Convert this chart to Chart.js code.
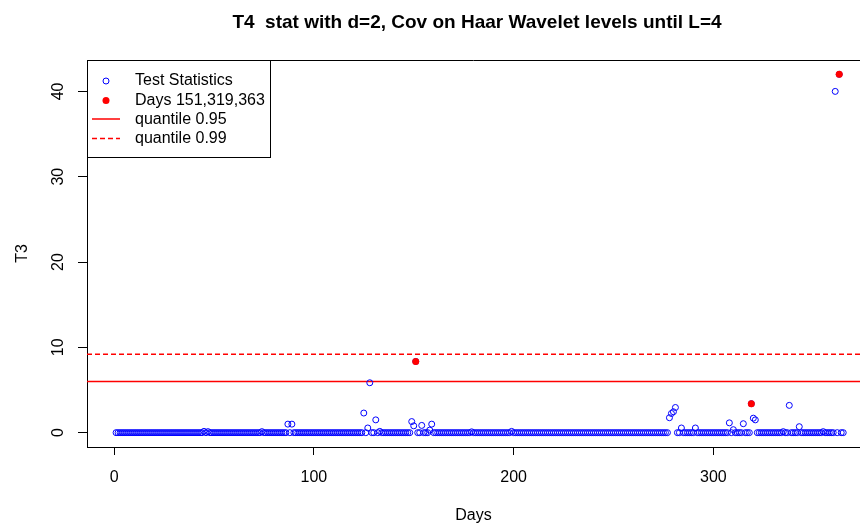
<!DOCTYPE html>
<html>
<head>
<meta charset="utf-8">
<script src="https://cdn.jsdelivr.net/npm/chart.js@4.4.0/dist/chart.umd.min.js"></script>
<style>
  html, body { margin: 0; padding: 0; background: #fff; overflow: hidden; }
</style>
</head>
<body>
<canvas id="myChart" width="860" height="525"></canvas>
<script>
// T statistic per day (day 1 .. 365)
const testStats = [
  0, 0, 0, 0, 0, 0, 0, 0, 0, 0, 0, 0, 0, 0, 0, 0, 0, 0, 0, 0,          // 1-20
  0, 0, 0, 0, 0, 0, 0, 0, 0, 0, 0, 0, 0, 0, 0, 0, 0, 0, 0, 0,          // 21-40
  0, 0, 0, 0, 0.15, 0, 0.12, 0, 0, 0, 0, 0, 0, 0, 0, 0, 0, 0, 0, 0,    // 41-60
  0, 0, 0, 0, 0, 0, 0, 0, 0, 0, 0, 0, 0, 0.12, 0, 0, 0, 0, 0, 0,       // 61-80
  0, 0, 0, 0, 0, 0, 1.0, 0, 1.0, 0, 0, 0, 0, 0, 0, 0, 0, 0, 0, 0,      // 81-100
  0, 0, 0, 0, 0, 0, 0, 0, 0, 0, 0, 0, 0, 0, 0, 0, 0, 0, 0, 0,          // 101-120
  0, 0, 0, 0, 2.3, 0, 0.55, 5.85, 0, 0, 1.5, 0, 0.15, 0, 0, 0, 0, 0, 0, 0,   // 121-140
  0, 0, 0, 0, 0, 0, 0, 0, 1.3, 0.8, 8.35, 0, 0, 0.85, 0, 0, 0, 0.3, 1.0, 0,  // 141-160
  0, 0, 0, 0, 0, 0, 0, 0, 0, 0, 0, 0, 0, 0, 0, 0, 0, 0, 0.1, 0,        // 161-180
  0, 0, 0, 0, 0, 0, 0, 0, 0, 0, 0, 0, 0, 0, 0, 0, 0, 0, 0.15, 0,       // 181-200
  0, 0, 0, 0, 0, 0, 0, 0, 0, 0, 0, 0, 0, 0, 0, 0, 0, 0, 0, 0,          // 201-220
  0, 0, 0, 0, 0, 0, 0, 0, 0, 0, 0, 0, 0, 0, 0, 0, 0, 0, 0, 0,          // 221-240
  0, 0, 0, 0, 0, 0, 0, 0, 0, 0, 0, 0, 0, 0, 0, 0, 0, 0, 0, 0,          // 241-260
  0, 0, 0, 0, 0, 0, 0, 0, 0, 0, 0, 0, 0, 0, 0, 0, 0, 1.75, 2.25, 2.45, // 261-280
  2.95, 0, 0, 0.55, 0, 0, 0, 0, 0, 0, 0.55, 0, 0, 0, 0, 0, 0, 0, 0, 0, // 281-300
  0, 0, 0, 0, 0, 0, 0, 1.15, 0, 0.35, 0, 0, 0, 0, 1.05, 0, 0, 0, 3.4, 1.7,  // 301-320
  1.5, 0, 0, 0, 0, 0, 0, 0, 0, 0, 0, 0, 0, 0, 0.12, 0, 0, 3.2, 0, 0,   // 321-340
  0, 0, 0.7, 0, 0, 0, 0, 0, 0, 0, 0, 0, 0, 0, 0.12, 0, 0, 0, 0, 0,     // 341-360
  40, 0, 42, 0, 0                                                       // 361-365
];
const testDays = testStats.map((v, i) => i + 1);

// flagged days (red)
const flagDays = [151, 319, 363];
const flagStats = [8.35, 3.4, 42];

// quantile levels
const q95 = 6.0;
const q99 = 9.2;

const titleText = 'T4  stat with d=2, Cov on Haar Wavelet levels until L=4';
const legendLabels = ['Test Statistics', 'Days 151,319,363', 'quantile 0.95', 'quantile 0.99'];

const X_MIN = -13.56, X_MAX = 373.4;
const Y_MIN = -1.68, Y_MAX = 43.68;
const FONT = '"Liberation Sans", Arial, sans-serif';

// R-like extras: top border, title and legend box
const rPlotExtras = {
  id: 'rPlotExtras',
  afterDraw(chart) {
    const { ctx, chartArea: a } = chart;
    ctx.save();
    ctx.strokeStyle = '#000';
    ctx.lineWidth = 1;
    ctx.beginPath();
    ctx.moveTo(a.left, Math.round(a.top) + 0.5);
    ctx.lineTo(chart.width, Math.round(a.top) + 0.5);
    ctx.stroke();

    ctx.fillStyle = '#000';
    ctx.font = 'bold 19px ' + FONT;
    ctx.textAlign = 'center';
    ctx.textBaseline = 'middle';
    ctx.fillText(titleText, 477, 23);

    // legend
    const lx = Math.round(a.left) + 0.5, ly = Math.round(a.top) + 0.5;
    ctx.fillStyle = '#fff';
    ctx.fillRect(lx, ly, 183, 97);
    ctx.strokeRect(lx, ly, 183, 97);
    const rows = [81, 100.5, 119.5, 138.5];
    const sx = 106;
    // open blue circle
    ctx.strokeStyle = 'blue';
    ctx.beginPath(); ctx.arc(sx, rows[0], 3, 0, Math.PI * 2); ctx.stroke();
    // filled red
    ctx.fillStyle = 'red';
    ctx.beginPath(); ctx.arc(sx, rows[1], 3.5, 0, Math.PI * 2); ctx.fill();
    // lines
    ctx.strokeStyle = 'red';
    ctx.lineWidth = 1.5;
    ctx.beginPath(); ctx.moveTo(92, rows[2] - 0.5); ctx.lineTo(120, rows[2] - 0.5); ctx.stroke();
    ctx.setLineDash([5, 3]);
    ctx.beginPath(); ctx.moveTo(92, rows[3]); ctx.lineTo(120, rows[3]); ctx.stroke();
    ctx.setLineDash([]);
    ctx.fillStyle = '#000';
    ctx.font = '16px ' + FONT;
    ctx.textAlign = 'left';
    legendLabels.forEach((t, i) => ctx.fillText(t, 135, rows[i]));
    ctx.restore();
  }
};

window.onload = function () {
  const ctx = document.getElementById('myChart');
  window.myChart = new Chart(ctx, {
    type: 'scatter',
    data: {
      datasets: [
        {
          label: legendLabels[1], order: 0,
          data: flagDays.map((d, i) => ({ x: d, y: flagStats[i] })),
          pointRadius: 3.5, pointBorderWidth: 0,
          pointBackgroundColor: 'red', pointBorderColor: 'red'
        },
        {
          label: legendLabels[0], order: 1,
          data: testDays.map((d, i) => ({ x: d, y: testStats[i] })),
          pointRadius: 3, pointBorderWidth: 1,
          pointBorderColor: 'blue', pointBackgroundColor: 'rgba(0,0,0,0)'
        },
        {
          label: legendLabels[2], order: 2, showLine: true,
          data: [{ x: X_MIN, y: q95 }, { x: X_MAX, y: q95 }],
          borderColor: 'red', borderWidth: 1.5, pointRadius: 0
        },
        {
          label: legendLabels[3], order: 2, showLine: true,
          data: [{ x: X_MIN, y: q99 }, { x: X_MAX, y: q99 }],
          borderColor: 'red', borderWidth: 1.5, borderDash: [5, 3], pointRadius: 0
        }
      ]
    },
    options: {
      responsive: false,
      animation: false,
      layout: { autoPadding: false, padding: { top: 60, left: 0, right: 0, bottom: 0 } },
      plugins: {
        legend: { display: false },
        tooltip: { enabled: false },
        title: { display: false }
      },
      scales: {
        x: {
          type: 'linear', min: X_MIN, max: X_MAX,
          afterFit: s => { s.height = 78; s.paddingLeft = 0; s.paddingRight = 0; },
          ticks: { stepSize: 100, includeBounds: false, maxRotation: 0, padding: 13,
                   color: '#000', font: { family: FONT, size: 16 } },
          grid: { drawOnChartArea: false, tickLength: 8, tickColor: '#000' },
          border: { color: '#000', width: 1 },
          title: { display: true, text: 'Days', color: '#000',
                   font: { family: FONT, size: 16 }, padding: { top: 0, bottom: 0 } }
        },
        y: {
          min: Y_MIN, max: Y_MAX,
          afterFit: s => { s.width = 87; s.paddingTop = 0; s.paddingBottom = 0; },
          ticks: { stepSize: 10, includeBounds: false, minRotation: 90, maxRotation: 90,
                   crossAlign: 'center', padding: 11,
                   color: '#000', font: { family: FONT, size: 16 } },
          grid: { drawOnChartArea: false, tickLength: 9, tickColor: '#000' },
          border: { color: '#000', width: 1 },
          title: { display: true, text: 'T3', color: '#000',
                   font: { family: FONT, size: 16 }, padding: { top: 13, bottom: 0 } }
        }
      }
    },
    plugins: [rPlotExtras]
  });
};
</script>
</body>
</html>
